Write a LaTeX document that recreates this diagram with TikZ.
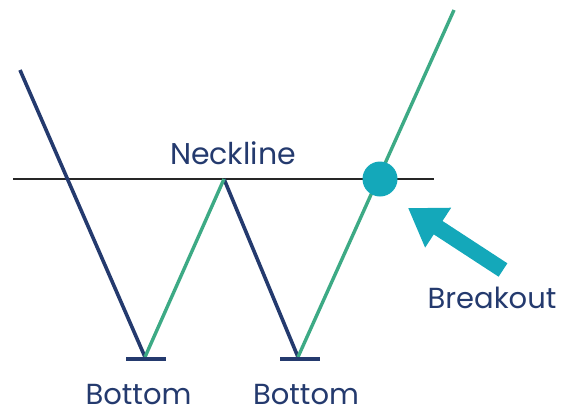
\documentclass[tikz,border=0pt]{standalone}
\usepackage{fontspec}
\setmainfont{Poppins}
\usetikzlibrary{arrows.meta}
\definecolor{navy}{HTML}{243A6E}
\definecolor{mint}{HTML}{3DAA85}
\definecolor{teal}{HTML}{14A8BA}
\begin{document}
\begin{tikzpicture}[x=1pt,y=-1pt,
    down/.style={draw=navy,line width=3.6pt},
    up/.style={draw=mint,line width=3.4pt},
    lbl/.style={text=navy,font=\fontsize{29}{32}\selectfont,inner sep=0pt,anchor=base}
]
    \useasboundingbox (0,0) rectangle (563,413);

    \coordinate (start) at (20,70);
    \coordinate (bot1) at (145,357);
    \coordinate (peak) at (224,179);
    \coordinate (bot2) at (298,357);
    \coordinate (end) at (454,10);
    \coordinate (nl) at (13,179);
    \coordinate (nr) at (434,179);

    % neckline
    \draw[line width=1.3pt,black!85] (nl)--(nr);

    \foreach \x/\y in {start/bot1,peak/bot2}
        \draw[down] (\x)--(\y);
    \foreach \x/\y in {bot1/peak,bot2/end}
        \draw[up] (\x)--(\y);

    \draw[navy,line width=3.6pt] (126,359)--(166,359);
    \draw[navy,line width=3.6pt] (280,359)--(320,359);

    \node[circle,fill=teal,minimum size=35pt,inner sep=0pt] (brk) at (380,179) {};

    \coordinate (tail) at (503,270);
    \coordinate (tip) at (408,208);
    \draw[teal,line width=16pt,-{Triangle[length=36pt,width=45pt]}] (tail)--(tip);

    \node[lbl,font=\fontsize{30}{33}\selectfont] (neck) at (233,164) {Neckline};
    \node[lbl] (brklbl) at (492,308) {Breakout};
    \node[lbl] (bt1) at (138.5,404) {Bottom};
    \node[lbl] (bt2) at (306,404) {Bottom};
\end{tikzpicture}
\end{document}
